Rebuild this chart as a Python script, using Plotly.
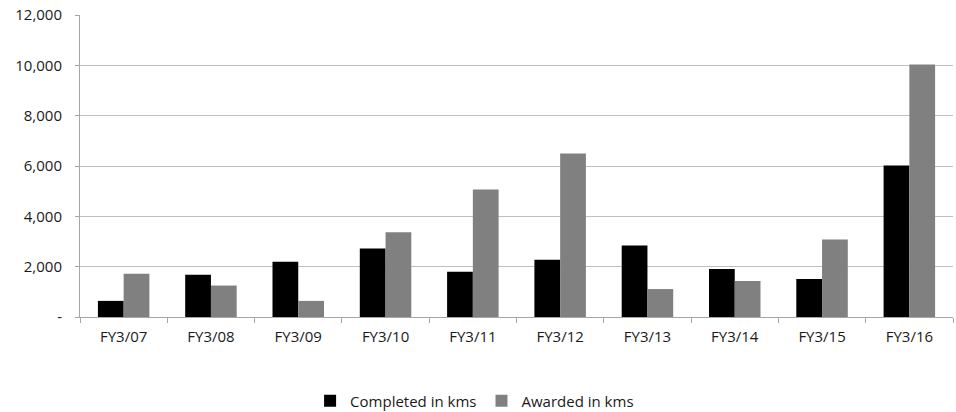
import plotly.graph_objects as go

# Fiscal years and road-km figures
years = ["FY3/07", "FY3/08", "FY3/09", "FY3/10", "FY3/11",
         "FY3/12", "FY3/13", "FY3/14", "FY3/15", "FY3/16"]
completed_kms = [640, 1680, 2200, 2720, 1800, 2270, 2840, 1910, 1510, 6020]
awarded_kms = [1720, 1250, 640, 3370, 5070, 6500, 1110, 1430, 3080, 10030]

y_ticks = [0, 2000, 4000, 6000, 8000, 10000, 12000]
y_tick_text = ["-", "2,000", "4,000", "6,000", "8,000", "10,000", "12,000"]

font_family = "Open Sans, Liberation Sans, sans-serif"

fig = go.Figure()
fig.add_trace(go.Bar(x=years, y=completed_kms, name="Completed in kms",
                     marker=dict(color="#000000", line=dict(width=0))))
fig.add_trace(go.Bar(x=years, y=awarded_kms, name="Awarded in kms",
                     marker=dict(color="#808080", line=dict(width=0))))

fig.update_layout(
    width=956, height=412,
    margin=dict(l=80, r=3, t=15, b=95, autoexpand=False),
    paper_bgcolor="white", plot_bgcolor="white",
    barmode="group", bargap=0.41, bargroupgap=0,
    font=dict(family=font_family, size=15, color="#1a1a1a"),
    showlegend=True,
    legend=dict(orientation="h", x=0.452, xanchor="center",
                y=-0.278, yanchor="middle",
                font=dict(size=15), itemwidth=30, traceorder="normal"),
    xaxis=dict(
        type="category", showgrid=False,
        showline=True, linecolor="#a6a6a6", linewidth=1,
        ticks="outside", tickson="boundaries", ticklen=5,
        tickcolor="#a6a6a6", tickfont=dict(size=15),
        ticklabelstandoff=6,
    ),
    yaxis=dict(
        range=[0, 12000], tickvals=y_ticks, ticktext=y_tick_text,
        showgrid=True, gridcolor="#c0c0c0", gridwidth=1,
        showline=True, linecolor="#a6a6a6", linewidth=1,
        ticks="outside", ticklen=4, tickcolor="#a6a6a6",
        zeroline=False, tickfont=dict(size=15),
        ticklabelstandoff=10,
    ),
)

fig.write_html("out.html")
